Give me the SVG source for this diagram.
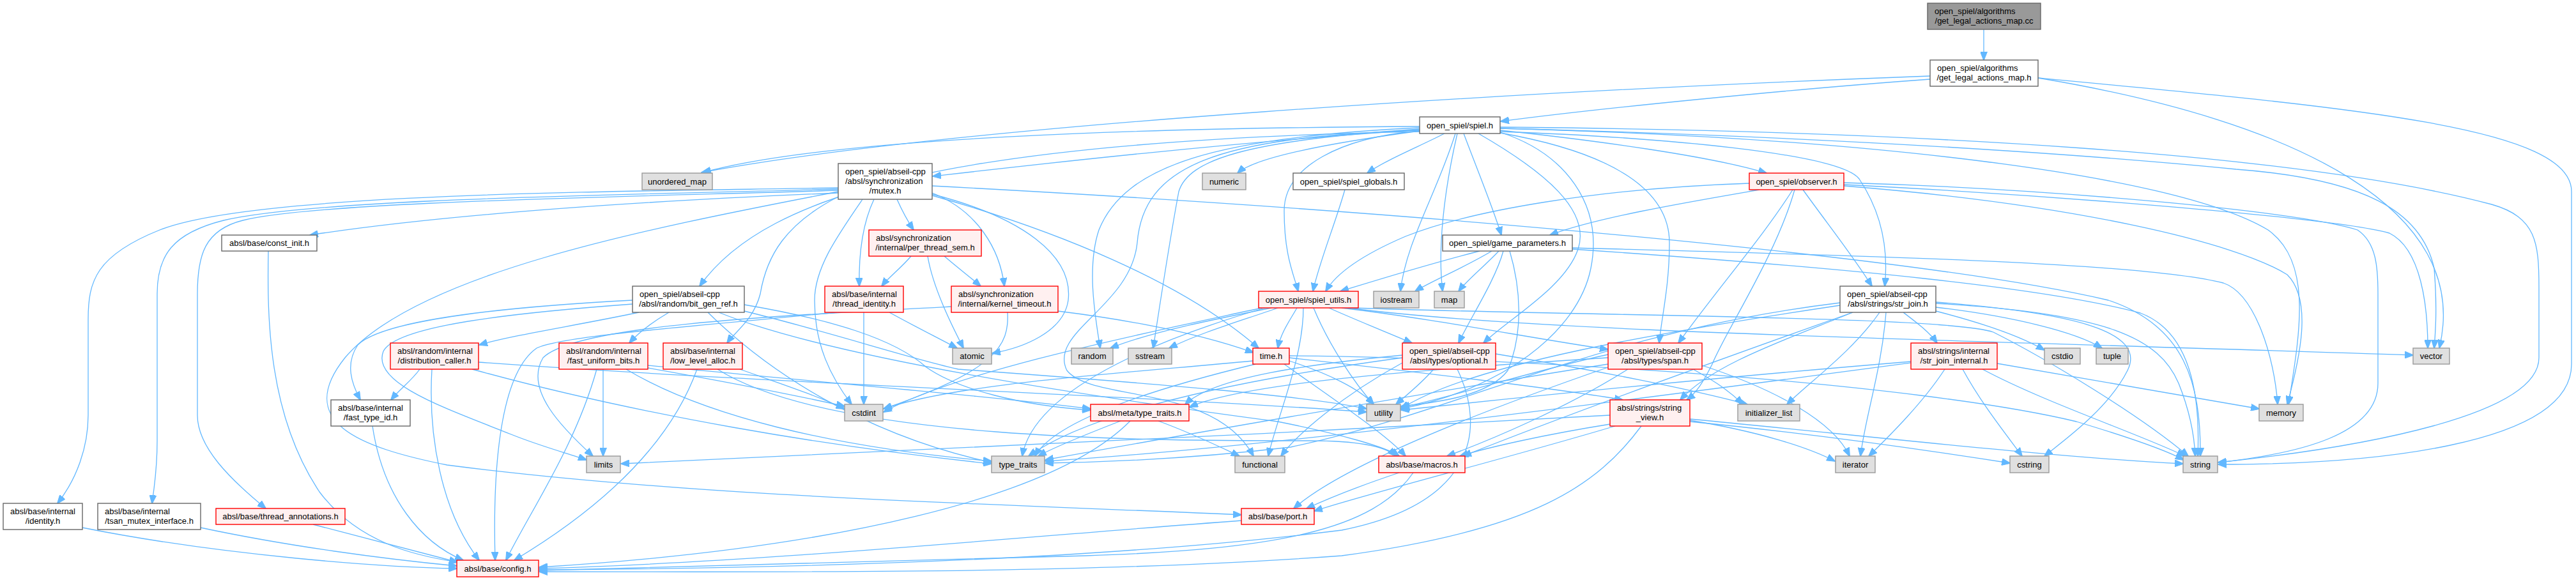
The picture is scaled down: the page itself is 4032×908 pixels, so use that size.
<svg xmlns="http://www.w3.org/2000/svg" width="4032" height="908" viewBox="0 0 4032 908">
<style>
.w{fill:#ffffff;stroke:#666666;stroke-width:1.4}
.r{fill:#fff0f0;stroke:#ff0000;stroke-width:1.4}
.g{fill:#e0e0e0;stroke:#999999;stroke-width:1.4}
.root{fill:#999999;stroke:#666666;stroke-width:1.4}
text{font-family:"Liberation Sans",Arial,Helvetica,sans-serif;font-size:13px;fill:#000000}
.m{text-anchor:middle}
#edges path{fill:none;stroke:#63b8ff;stroke-width:1.3;marker-end:url(#arr)}
</style>
<defs>
<marker id="arr" markerWidth="14" markerHeight="11" refX="13" refY="5.5" orient="auto" markerUnits="userSpaceOnUse">
<path d="M0,0 L14,5.5 L0,11 z" fill="#63b8ff" stroke="#63b8ff" stroke-width="1"/>
</marker>
</defs>
<rect x="0" y="0" width="4032" height="908" fill="#ffffff"/>
<g id="edges">
<path d="M3105,46 C3105,62 3105,78 3105,94"/>
<path d="M3021,124 C2800,140 2500,170 2349,190"/>
<path d="M3021,119 C2400,142 1500,195 1098,270"/>
<path d="M3190,122 C3600,190 3870,330 3818,545"/>
<path d="M3190,122 C3700,170 4025,200 4025,300 L4025,570 C4025,700 3700,727 3472,727"/>
<path d="M2222,198 C1800,200 1300,215 1100,270"/>
<path d="M2222,203 C1900,225 1600,260 1460,276"/>
<path d="M2222,205 C2050,228 1960,250 1937,271"/>
<path d="M2261,209 C2220,230 2170,250 2140,271"/>
<path d="M2348,204 C2500,220 2680,245 2765,271"/>
<path d="M2291,209 C2310,260 2335,320 2350,368"/>
<path d="M2222,206 C1500,220 1200,300 1095,448"/>
<path d="M2222,205 C2100,215 2010,260 2010,330 C2010,400 2025,430 2032,456"/>
<path d="M2278,209 C2250,300 2200,380 2192,456"/>
<path d="M2281,209 C2260,300 2250,390 2258,456"/>
<path d="M2348,206 C2600,215 2880,240 2910,280 C2950,340 2955,400 2950,448"/>
<path d="M2348,208 C2530,240 2613,300 2613,380 C2613,450 2600,500 2597,537"/>
<path d="M2314,209 C2420,270 2490,330 2470,390 C2450,450 2360,500 2322,537"/>
<path d="M2222,200 C1900,215 1760,260 1720,360 C1700,420 1715,500 1722,545"/>
<path d="M2222,202 C1950,220 1860,250 1845,300 C1830,380 1815,480 1805,545"/>
<path d="M2222,204 C1900,215 1790,260 1780,380 C1770,480 1640,520 1670,580 C1710,630 1900,600 1962,714"/>
<path d="M2348,207 C2450,240 2510,320 2490,420 C2470,520 2350,610 2193,640"/>
<path d="M2348,201 C2900,215 3400,270 3550,360 C3620,410 3600,520 3582,633"/>
<path d="M2348,199 C3000,205 3600,240 3900,320 C3970,340 3974,380 3974,450 L3974,560 C3974,650 3700,700 3472,724"/>
<path d="M2348,201 C2900,215 3300,245 3500,265 C3700,280 3790,330 3810,420 C3815,480 3812,520 3810,545"/>
<path d="M1312,302 C1000,315 700,335 485,368"/>
<path d="M1312,294 C1000,300 400,300 250,360 C150,400 138,440 138,500 L138,650 C138,700 120,750 90,788"/>
<path d="M1312,296 C1000,305 500,310 350,345 C270,365 246,400 246,460 L246,690 C246,740 240,770 238,788"/>
<path d="M1312,298 C1000,308 500,315 380,345 C320,360 309,400 309,460 L309,650 C309,700 360,750 416,796"/>
<path d="M1404,312 C1412,330 1420,345 1430,360"/>
<path d="M1368,312 C1350,350 1344,400 1345,448"/>
<path d="M1459,302 C1530,330 1565,390 1572,448"/>
<path d="M1312,308 C1230,350 1200,400 1190,460 C1180,500 1150,520 1138,537"/>
<path d="M1350,312 C1310,370 1275,420 1275,470 C1275,540 1300,590 1333,633"/>
<path d="M1459,304 C1600,340 1680,400 1672,470 C1665,520 1600,545 1553,553"/>
<path d="M1459,306 C1650,360 1850,440 1970,545"/>
<path d="M1312,300 C1000,360 650,430 540,560 C460,660 560,700 700,728 C1100,780 1600,790 1943,806"/>
<path d="M1459,291 C2200,330 3000,400 3300,470 C3420,510 3445,600 3444,714"/>
<path d="M1426,401 C1410,420 1390,435 1380,448"/>
<path d="M1452,401 C1460,450 1490,510 1508,545"/>
<path d="M1478,401 C1500,420 1520,435 1535,448"/>
<path d="M1392,489 C1430,510 1470,530 1498,545"/>
<path d="M1352,489 C1352,540 1352,590 1352,633"/>
<path d="M1310,489 C1100,510 880,525 840,545 C790,580 770,700 775,877"/>
<path d="M1656,487 C1800,505 1900,530 1962,552"/>
<path d="M1577,489 C1580,540 1560,580 1383,640"/>
<path d="M1489,480 C1200,495 900,510 850,560 C820,610 880,670 928,714"/>
<path d="M2105,297 C2090,350 2065,410 2055,456"/>
<path d="M2754,297 C2650,315 2500,340 2426,368"/>
<path d="M2738,287 C2500,295 2300,330 2200,370 C2130,400 2090,430 2075,456"/>
<path d="M2822,297 C2860,350 2900,400 2930,448"/>
<path d="M2806,297 C2760,370 2690,450 2627,537"/>
<path d="M2809,297 C2780,400 2700,520 2680,570 C2665,600 2655,615 2640,626"/>
<path d="M2886,286 C3200,295 3600,330 3690,360 C3720,380 3722,420 3722,460 L3722,600 C3722,680 3600,710 3472,724"/>
<path d="M2886,289 C3200,305 3650,340 3740,365 C3790,390 3800,480 3800,545"/>
<path d="M2886,291 C3250,320 3500,380 3580,430 C3620,470 3600,560 3580,633"/>
<path d="M2316,393 C2230,415 2150,440 2098,456"/>
<path d="M2335,393 C2290,420 2240,440 2215,456"/>
<path d="M2346,393 C2320,420 2295,440 2283,456"/>
<path d="M2353,393 C2340,440 2300,500 2283,537"/>
<path d="M2363,393 C2380,450 2385,520 2360,580 C2330,620 2250,630 2193,636"/>
<path d="M2461,390 C2900,420 3200,450 3350,490 C3430,520 3444,620 3440,714"/>
<path d="M2461,388 C2900,400 3350,410 3480,443 C3530,460 3560,560 3565,633"/>
<path d="M1990,482 C1900,500 1800,520 1738,545"/>
<path d="M2000,482 C1950,500 1880,520 1830,545"/>
<path d="M2030,482 C2020,500 2005,520 2000,545"/>
<path d="M2080,482 C2120,500 2170,520 2210,537"/>
<path d="M2100,482 C2250,500 2400,530 2517,547"/>
<path d="M2056,482 C2080,540 2120,600 2150,633"/>
<path d="M2110,482 C2400,520 3000,530 3777,556"/>
<path d="M2115,482 C2500,495 3050,495 3120,520 C3200,560 3350,650 3425,714"/>
<path d="M1975,482 C1800,520 1500,580 1383,645"/>
<path d="M2040,482 C2040,560 2000,650 1985,714"/>
<path d="M1980,482 C1850,520 1620,600 1600,714"/>
<path d="M2979,489 C3000,505 3020,520 3032,537"/>
<path d="M3030,487 C3100,505 3160,525 3200,548"/>
<path d="M3030,481 C3150,495 3250,520 3290,545"/>
<path d="M2942,489 C2900,550 2830,600 2797,633"/>
<path d="M2952,489 C2945,580 2920,650 2912,714"/>
<path d="M3030,473 C3250,490 3360,520 3330,580 C3300,640 3230,690 3200,714"/>
<path d="M3030,475 C3300,490 3380,530 3410,600 C3430,650 3435,690 3436,714"/>
<path d="M2880,474 C2500,520 2300,640 2020,700 C1850,720 1700,724 1636,725"/>
<path d="M2880,478 C2600,520 2300,570 2193,640"/>
<path d="M2900,489 C2700,560 2450,650 2290,714"/>
<path d="M2900,489 C2800,530 2680,570 2630,626"/>
<path d="M3044,578 C3010,630 2960,680 2925,714"/>
<path d="M3072,578 C3100,630 3140,680 3165,714"/>
<path d="M3103,578 C3200,630 3350,680 3420,714"/>
<path d="M3126,569 C3300,600 3450,625 3536,640"/>
<path d="M2991,566 C2700,590 2400,620 2193,642"/>
<path d="M2991,568 C2600,620 2000,700 1636,722"/>
<path d="M2244,578 C2225,600 2200,620 2185,633"/>
<path d="M2281,578 C2330,680 2300,790 2100,830 C1700,880 1200,890 844,892"/>
<path d="M2195,568 C2100,620 2030,680 2005,714"/>
<path d="M2341,554 C2500,580 2650,610 2735,633"/>
<path d="M2195,560 C1900,600 1700,650 1610,714"/>
<path d="M2195,556 C2050,570 1900,590 1855,633"/>
<path d="M2650,578 C2690,600 2710,615 2728,633"/>
<path d="M2664,572 C2780,610 2870,660 2895,714"/>
<path d="M2517,570 C2200,620 1800,690 1636,720"/>
<path d="M2517,555 C2400,580 2280,620 2193,638"/>
<path d="M2548,578 C2450,640 2330,690 2265,714"/>
<path d="M2517,575 C2300,650 2100,730 2025,796"/>
<path d="M2517,560 C2200,580 1950,600 1862,637"/>
<path d="M2520,650 C2000,680 1300,710 972,726"/>
<path d="M2520,664 C2420,680 2330,700 2285,714"/>
<path d="M2528,667 C2350,720 2150,770 2057,800"/>
<path d="M2569,667 C2500,760 2400,830 2100,870 C1700,900 1200,895 844,895"/>
<path d="M2645,660 C2850,680 3050,710 3146,725"/>
<path d="M2645,658 C2750,675 2830,700 2872,722"/>
<path d="M2645,656 C2900,680 3200,715 3417,726"/>
<path d="M1754,659 C1700,680 1650,700 1625,714"/>
<path d="M1769,659 C1650,780 1300,860 844,888"/>
<path d="M1813,659 C1870,680 1910,700 1940,714"/>
<path d="M1961,565 C1750,585 1500,600 1383,640"/>
<path d="M1965,570 C1800,610 1650,660 1620,714"/>
<path d="M2018,565 C2080,585 2130,610 2150,633"/>
<path d="M2010,570 C2080,620 2170,680 2200,714"/>
<path d="M2018,560 C2200,580 2450,610 2540,626"/>
<path d="M2018,557 C2400,560 3000,600 3250,660 C3350,690 3400,710 3418,720"/>
<path d="M1000,489 C900,510 800,525 750,540"/>
<path d="M1047,489 C1020,505 1000,520 985,537"/>
<path d="M990,470 C800,480 600,500 560,540 C540,570 550,600 564,626"/>
<path d="M990,476 C800,490 620,510 600,550 C580,600 700,640 800,680 C850,700 890,710 918,720"/>
<path d="M1108,489 C1200,580 1350,680 1552,724"/>
<path d="M1165,487 C1300,520 1420,560 1500,578 C1800,600 2050,620 2139,640"/>
<path d="M1125,489 C1300,560 1700,620 2000,660 C2100,680 2170,700 2190,714"/>
<path d="M1165,477 C1300,500 1400,530 1450,575 C1500,610 1600,635 1707,642"/>
<path d="M657,578 C645,595 625,610 612,626"/>
<path d="M676,578 C670,680 690,800 750,877"/>
<path d="M749,567 C1200,600 1800,620 2139,645"/>
<path d="M739,578 C1000,650 1300,700 1552,726"/>
<path d="M934,578 C900,700 830,800 792,877"/>
<path d="M944,578 C944,620 944,670 944,714"/>
<path d="M1014,576 C1150,600 1250,620 1322,636"/>
<path d="M980,578 C1100,650 1300,700 1552,722"/>
<path d="M1014,572 C1300,600 1550,620 1707,640"/>
<path d="M1091,578 C1040,720 900,820 805,877"/>
<path d="M1158,578 C1220,600 1280,620 1322,640"/>
<path d="M1123,578 C1300,690 1800,690 2050,690 C2130,690 2170,700 2185,714"/>
<path d="M583,667 C600,780 660,850 725,877"/>
<path d="M420,393 C418,500 420,650 500,770 C560,850 650,870 716,880"/>
<path d="M129,826 C350,870 600,888 715,890"/>
<path d="M314,826 C450,855 600,875 715,886"/>
<path d="M490,821 C580,845 660,865 716,880"/>
<path d="M1943,815 C1600,840 1200,880 844,890"/>
<path d="M2190,740 C2130,760 2080,780 2045,796"/>
<path d="M2212,740 C2150,830 2000,860 1700,870 C1300,880 1000,888 844,893"/>
</g>
<g id="n_cc"><rect class="root" x="3017" y="5" width="177" height="41"/><text x="3028" y="22">open_spiel/algorithms</text><text class="m" x="3105.5" y="37">/get_legal_actions_map.cc</text></g>
<g id="n_glh"><rect class="w" x="3021" y="94" width="169" height="41"/><text x="3032" y="111">open_spiel/algorithms</text><text class="m" x="3105.5" y="126">/get_legal_actions_map.h</text></g>
<g id="n_spiel"><rect class="w" x="2222" y="183" width="126" height="26"/><text class="m" x="2285" y="200.5">open_spiel/spiel.h</text></g>
<g id="n_umap"><rect class="g" x="1005" y="271" width="110" height="26"/><text class="m" x="1060" y="288.5">unordered_map</text></g>
<g id="n_mutex"><rect class="w" x="1312" y="256" width="147" height="56"/><text x="1323" y="273">open_spiel/abseil-cpp</text><text x="1323" y="288">/absl/synchronization</text><text class="m" x="1385.5" y="303">/mutex.h</text></g>
<g id="n_numeric"><rect class="g" x="1882" y="271" width="68" height="26"/><text class="m" x="1916" y="288.5">numeric</text></g>
<g id="n_globals"><rect class="w" x="2024" y="271" width="174" height="26"/><text class="m" x="2111" y="288.5">open_spiel/spiel_globals.h</text></g>
<g id="n_observer"><rect class="r" x="2738" y="271" width="148" height="26"/><text class="m" x="2812" y="288.5">open_spiel/observer.h</text></g>
<g id="n_constinit"><rect class="w" x="347" y="368" width="149" height="25"/><text class="m" x="421.5" y="385">absl/base/const_init.h</text></g>
<g id="n_pts"><rect class="r" x="1360" y="360" width="176" height="41"/><text x="1371" y="377">absl/synchronization</text><text class="m" x="1448" y="392">/internal/per_thread_sem.h</text></g>
<g id="n_gp"><rect class="w" x="2258" y="368" width="203" height="25"/><text class="m" x="2359.5" y="385">open_spiel/game_parameters.h</text></g>
<g id="n_bitgen"><rect class="w" x="990" y="448" width="175" height="41"/><text x="1001" y="465">open_spiel/abseil-cpp</text><text class="m" x="1077.5" y="480">/absl/random/bit_gen_ref.h</text></g>
<g id="n_tid"><rect class="r" x="1291" y="448" width="123" height="41"/><text x="1302" y="465">absl/base/internal</text><text class="m" x="1352.5" y="480">/thread_identity.h</text></g>
<g id="n_kt"><rect class="r" x="1489" y="448" width="167" height="41"/><text x="1500" y="465">absl/synchronization</text><text class="m" x="1572.5" y="480">/internal/kernel_timeout.h</text></g>
<g id="n_utils"><rect class="r" x="1970" y="456" width="156" height="26"/><text class="m" x="2048" y="473.5">open_spiel/spiel_utils.h</text></g>
<g id="n_iostream"><rect class="g" x="2150" y="456" width="71" height="26"/><text class="m" x="2185.5" y="473.5">iostream</text></g>
<g id="n_map"><rect class="g" x="2245" y="456" width="47" height="26"/><text class="m" x="2268.5" y="473.5">map</text></g>
<g id="n_strjoin"><rect class="w" x="2880" y="448" width="150" height="41"/><text x="2891" y="465">open_spiel/abseil-cpp</text><text class="m" x="2955" y="480">/absl/strings/str_join.h</text></g>
<g id="n_atomic"><rect class="g" x="1491" y="545" width="61" height="25"/><text class="m" x="1521.5" y="562">atomic</text></g>
<g id="n_random"><rect class="g" x="1677" y="545" width="65" height="25"/><text class="m" x="1709.5" y="562">random</text></g>
<g id="n_sstream"><rect class="g" x="1766" y="545" width="68" height="25"/><text class="m" x="1800" y="562">sstream</text></g>
<g id="n_time"><rect class="r" x="1961" y="545" width="57" height="25"/><text class="m" x="1989.5" y="562">time.h</text></g>
<g id="n_vector"><rect class="g" x="3777" y="545" width="57" height="25"/><text class="m" x="3805.5" y="562">vector</text></g>
<g id="n_cstdio"><rect class="g" x="3200" y="545" width="56" height="25"/><text class="m" x="3228" y="562">cstdio</text></g>
<g id="n_tuple"><rect class="g" x="3281" y="545" width="50" height="25"/><text class="m" x="3306" y="562">tuple</text></g>
<g id="n_sji"><rect class="r" x="2991" y="537" width="135" height="41"/><text x="3002" y="554">absl/strings/internal</text><text class="m" x="3058.5" y="569">/str_join_internal.h</text></g>
<g id="n_optional"><rect class="r" x="2195" y="537" width="146" height="41"/><text x="2206" y="554">open_spiel/abseil-cpp</text><text class="m" x="2268" y="569">/absl/types/optional.h</text></g>
<g id="n_span"><rect class="r" x="2517" y="537" width="147" height="41"/><text x="2528" y="554">open_spiel/abseil-cpp</text><text class="m" x="2590.5" y="569">/absl/types/span.h</text></g>
<g id="n_dc"><rect class="r" x="611" y="537" width="138" height="41"/><text x="622" y="554">absl/random/internal</text><text class="m" x="680" y="569">/distribution_caller.h</text></g>
<g id="n_fub"><rect class="r" x="875" y="537" width="139" height="41"/><text x="886" y="554">absl/random/internal</text><text class="m" x="944.5" y="569">/fast_uniform_bits.h</text></g>
<g id="n_lla"><rect class="r" x="1038" y="537" width="124" height="41"/><text x="1049" y="554">absl/base/internal</text><text class="m" x="1100" y="569">/low_level_alloc.h</text></g>
<g id="n_fti"><rect class="w" x="518" y="626" width="124" height="41"/><text x="529" y="643">absl/base/internal</text><text class="m" x="580" y="658">/fast_type_id.h</text></g>
<g id="n_cstdint"><rect class="g" x="1322" y="633" width="60" height="26"/><text class="m" x="1352" y="650.5">cstdint</text></g>
<g id="n_metatt"><rect class="r" x="1707" y="633" width="154" height="26"/><text class="m" x="1784" y="650.5">absl/meta/type_traits.h</text></g>
<g id="n_initlist"><rect class="g" x="2720" y="633" width="97" height="26"/><text class="m" x="2768.5" y="650.5">initializer_list</text></g>
<g id="n_memory"><rect class="g" x="3536" y="633" width="69" height="26"/><text class="m" x="3570.5" y="650.5">memory</text></g>
<g id="n_utility"><rect class="g" x="2139" y="633" width="53" height="26"/><text class="m" x="2165.5" y="650.5">utility</text></g>
<g id="n_sv"><rect class="r" x="2520" y="626" width="125" height="41"/><text x="2531" y="643">absl/strings/string</text><text class="m" x="2582.5" y="658">_view.h</text></g>
<g id="n_limits"><rect class="g" x="918" y="714" width="53" height="26"/><text class="m" x="944.5" y="731.5">limits</text></g>
<g id="n_typetraits"><rect class="g" x="1552" y="714" width="83" height="26"/><text class="m" x="1593.5" y="731.5">type_traits</text></g>
<g id="n_functional"><rect class="g" x="1933" y="714" width="78" height="26"/><text class="m" x="1972" y="731.5">functional</text></g>
<g id="n_macros"><rect class="r" x="2158" y="714" width="135" height="26"/><text class="m" x="2225.5" y="731.5">absl/base/macros.h</text></g>
<g id="n_iterator"><rect class="g" x="2873" y="714" width="62" height="26"/><text class="m" x="2904" y="731.5">iterator</text></g>
<g id="n_cstring"><rect class="g" x="3146" y="714" width="61" height="26"/><text class="m" x="3176.5" y="731.5">cstring</text></g>
<g id="n_string"><rect class="g" x="3417" y="714" width="54" height="26"/><text class="m" x="3444" y="731.5">string</text></g>
<g id="n_port"><rect class="r" x="1943" y="796" width="114" height="25"/><text class="m" x="2000" y="813">absl/base/port.h</text></g>
<g id="n_config"><rect class="r" x="715" y="877" width="128" height="26"/><text class="m" x="779" y="894.5">absl/base/config.h</text></g>
<g id="n_identity"><rect class="w" x="5" y="788" width="124" height="41"/><text x="16" y="805">absl/base/internal</text><text class="m" x="67" y="820">/identity.h</text></g>
<g id="n_tsan"><rect class="w" x="153" y="788" width="161" height="41"/><text x="164" y="805">absl/base/internal</text><text class="m" x="233.5" y="820">/tsan_mutex_interface.h</text></g>
<g id="n_ta"><rect class="r" x="338" y="796" width="202" height="25"/><text class="m" x="439" y="813">absl/base/thread_annotations.h</text></g>
</svg>
